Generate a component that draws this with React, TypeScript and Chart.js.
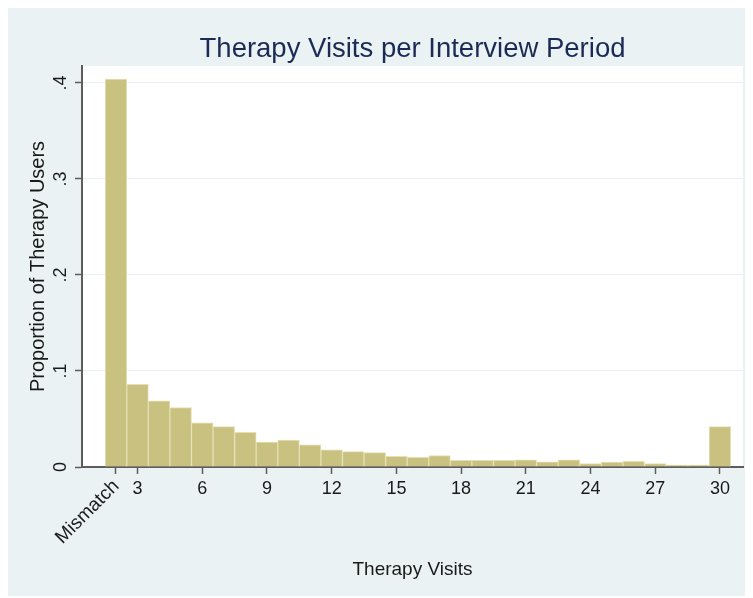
import { useEffect, useRef } from "react";
import { Chart, registerables } from "chart.js";

Chart.register(...registerables);

const visits = [2, 3, 4, 5, 6, 7, 8, 9, 10, 11, 12, 13, 14, 15, 16, 17, 18, 19, 20, 21, 22, 23, 24, 25, 26, 27, 28, 29, 30];
const proportions = [
  0.404, 0.086, 0.069, 0.062, 0.046, 0.042, 0.036, 0.026, 0.028, 0.023,
  0.018, 0.016, 0.015, 0.011, 0.010, 0.012, 0.007, 0.007, 0.007, 0.0075,
  0.0055, 0.0075, 0.0035, 0.005, 0.006, 0.0035, 0.002, 0.002, 0.042,
];
const xTickValues = [2, 3, 6, 9, 12, 15, 18, 21, 24, 27, 30];
const xTickLabels = ["Mismatch", "3", "6", "9", "12", "15", "18", "21", "24", "27", "30"];
const yTickValues = [0, 0.1, 0.2, 0.3, 0.4];
const yTickLabels = ["0", ".1", ".2", ".3", ".4"];
const chartTitle = "Therapy Visits per Interview Period";
const xTitle = "Therapy Visits";
const yTitle = "Proportion of Therapy Users";

const FONT = '"Liberation Sans", Arial, Helvetica, sans-serif';

const plotBg = {
  id: "plotBg",
  beforeDraw(chart: any) {
    const { ctx, chartArea: a } = chart;
    ctx.save();
    ctx.fillStyle = "#ffffff";
    ctx.fillRect(a.left, a.top, a.right - a.left, a.bottom - a.top);
    ctx.restore();
  },
};

const textPlugin = {
  id: "textPlugin",
  afterDraw(chart: any) {
    const { ctx, chartArea: a } = chart;
    const x = chart.scales.x;
    const y = chart.scales.y;
    ctx.save();
    // title
    ctx.fillStyle = "#1c2b55";
    ctx.font = `27.5px ${FONT}`;
    ctx.textAlign = "center";
    ctx.textBaseline = "alphabetic";
    ctx.fillText(chartTitle, (a.left + a.right) / 2, 49);

    ctx.fillStyle = "#1a1a1a";
    // x tick labels
    ctx.font = `18px ${FONT}`;
    xTickValues.forEach((v, i) => {
      const px = x.getPixelForValue(v);
      if (i === 0) {
        ctx.save();
        ctx.translate(px + 4, a.bottom + 20);
        ctx.rotate(-Math.PI / 4);
        ctx.textAlign = "right";
        ctx.font = `19px ${FONT}`;
        ctx.fillText(xTickLabels[i], 0, 0);
        ctx.restore();
      } else {
        ctx.textAlign = "center";
        ctx.fillText(xTickLabels[i], px, a.bottom + 27);
      }
    });
    // y tick labels (rotated)
    yTickValues.forEach((v, i) => {
      const py = y.getPixelForValue(v);
      ctx.save();
      ctx.translate(58, py);
      ctx.rotate(-Math.PI / 2);
      ctx.textAlign = "center";
      ctx.fillText(yTickLabels[i], 0, 0);
      ctx.restore();
    });
    // axis titles
    ctx.font = `19px ${FONT}`;
    ctx.textAlign = "center";
    ctx.fillText(xTitle, (a.left + a.right) / 2, 567);
    ctx.save();
    ctx.font = `20px ${FONT}`;
    ctx.translate(36, (a.top + a.bottom) / 2);
    ctx.rotate(-Math.PI / 2);
    ctx.fillText(yTitle, 0, 0);
    ctx.restore();
    ctx.restore();
  },
};

export default function App() {
  const ref = useRef<HTMLCanvasElement | null>(null);
  useEffect(() => {
    if (!ref.current) return;
    const chart = new Chart(ref.current, {
      type: "bar",
      data: {
        datasets: [
          {
            data: visits.map((v, i) => ({ x: v, y: proportions[i] })),
            backgroundColor: "#c9c17f",
            borderColor: "#e4e0b4",
            borderWidth: 1,
            barPercentage: 1,
            categoryPercentage: 1,
          },
        ],
      },
      options: {
        animation: false,
        responsive: false,
        maintainAspectRatio: false,
        layout: { padding: { top: 58, right: 10, left: 0, bottom: 0 } },
        plugins: { legend: { display: false }, tooltip: { enabled: false }, title: { display: false } },
        scales: {
          x: {
            type: "linear",
            min: 0.424,
            max: 31.07,
            offset: false,
            afterBuildTicks: (s: any) => {
              s.ticks = xTickValues.map((v) => ({ value: v }));
            },
            afterFit: (s: any) => {
              s.height = 129;
            },
            ticks: { display: false, autoSkip: false },
            grid: { offset: false, drawOnChartArea: false, drawTicks: true, tickLength: 7, tickColor: "#5c5c5c", tickWidth: 1.5 },
            border: { display: true, color: "#5c5c5c", width: 2 },
          },
          y: {
            type: "linear",
            min: 0,
            max: 0.4177,
            afterBuildTicks: (s: any) => {
              s.ticks = yTickValues.map((v) => ({ value: v }));
            },
            afterFit: (s: any) => {
              s.width = 74;
            },
            ticks: { display: false },
            grid: { color: "#e8f0f2", lineWidth: 1, drawTicks: true, tickLength: 7, tickColor: "#5c5c5c", tickWidth: 1.5 },
            border: { display: true, color: "#5c5c5c", width: 2 },
          },
        },
      },
      plugins: [plotBg, textPlugin],
    });
    return () => chart.destroy();
  }, []);
  return (
    <div style={{ width: 745, height: 588, background: "#eaf2f3" }}>
      <canvas ref={ref} width={745} height={588} style={{ display: "block" }} />
    </div>
  );
}
